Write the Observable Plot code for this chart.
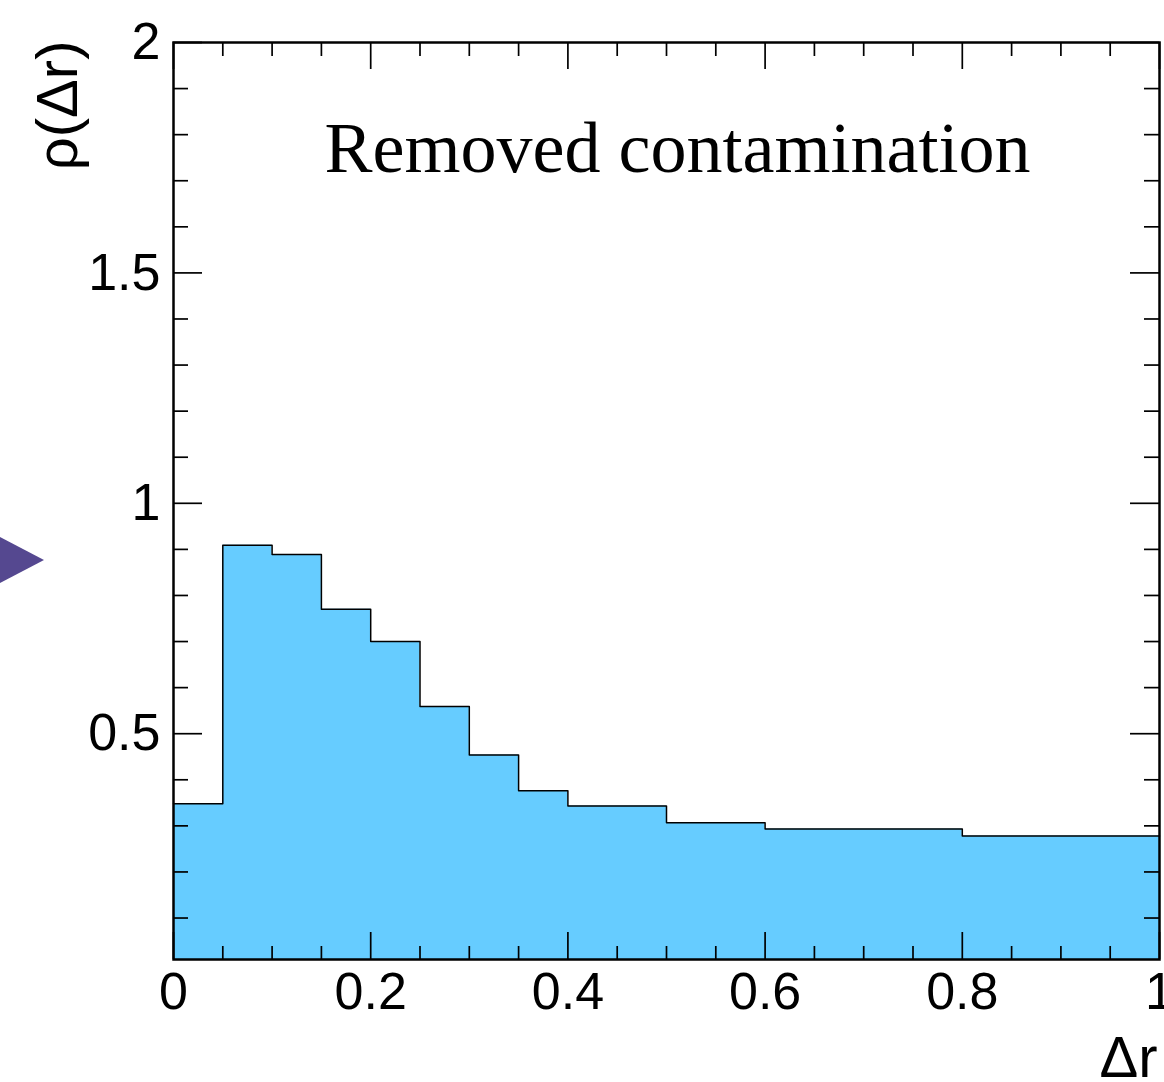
<!DOCTYPE html>
<html><head><meta charset="utf-8">
<script src="https://cdn.jsdelivr.net/npm/d3@7"></script>
<script src="https://cdn.jsdelivr.net/npm/@observablehq/plot@0.6"></script>
<style>
html,body{margin:0;padding:0;background:#fff;}
#wrap{position:relative;width:1164px;height:1082px;overflow:hidden;}
#arrow{position:absolute;left:0;top:537px;width:44px;height:46px;background:#554890;clip-path:polygon(0 0,100% 50%,0 100%);}
</style></head><body><div id="wrap"><div id="chart"></div><div id="arrow"></div></div>
<script>
// Histogram bins (Δr edges) and ρ(Δr) values
const binEdges = [0, 0.05, 0.1, 0.15, 0.2, 0.25, 0.3, 0.35, 0.4, 0.5, 0.6, 0.8, 1.0];
const binValues = [0.348, 0.909, 0.889, 0.770, 0.700, 0.559, 0.454, 0.376, 0.343, 0.307, 0.293, 0.278];
const xMajorTicks = [0, 0.2, 0.4, 0.6, 0.8, 1];
const xTickLabels = ["0", "0.2", "0.4", "0.6", "0.8", "1"];
const yMajorTicks = [0.5, 1, 1.5, 2];
const yTickLabels = ["0.5", "1", "1.5", "2"];
const xDomain = [0, 1];
const yDomain = [0.01, 2];
const titleText = "Removed contamination";
const xLabel = "Δr";
const yLabel = "ρ(Δr)";

const xMinorTicks = d3.range(0, 21).map(i => i / 20).filter(v => !xMajorTicks.some(m => Math.abs(m - v) < 1e-9));
const yMinorTicks = d3.range(1, 21).map(i => i / 10).filter(v => !yMajorTicks.some(m => Math.abs(m - v) < 1e-9));

const stepPts = binValues.map((v, i) => ({x: binEdges[i], y: v}))
  .concat([{x: binEdges[binEdges.length - 1], y: binValues[binValues.length - 1]}]);

const W = 1164, H = 1082, mL = 173, mR = 5, mT = 42, mB = 123;
const fw = W - mL - mR, fh = H - mT - mB;
const sans = "'Liberation Sans', Arial, Helvetica, sans-serif";

const chart = Plot.plot({
  width: W, height: H,
  marginLeft: mL, marginRight: mR, marginTop: mT, marginBottom: mB,
  style: {fontFamily: sans, background: "white", overflow: "visible"},
  x: {domain: xDomain},
  y: {domain: yDomain},
  marks: [
    Plot.areaY(stepPts, {x: "x", y1: () => yDomain[0], y2: "y", curve: "step-after", fill: "#66ccff"}),
    Plot.lineY(stepPts, {x: "x", y: "y", curve: "step-after", stroke: "black", strokeWidth: 1.5}),
    // inner ticks, all four sides
    Plot.tickX(xMajorTicks, {x: d => d, insetTop: fh - 27, stroke: "black", strokeWidth: 1.7}),
    Plot.tickX(xMinorTicks, {x: d => d, insetTop: fh - 13, stroke: "black", strokeWidth: 1.7}),
    Plot.tickX(xMajorTicks, {x: d => d, insetBottom: fh - 27, stroke: "black", strokeWidth: 1.7}),
    Plot.tickX(xMinorTicks, {x: d => d, insetBottom: fh - 14, stroke: "black", strokeWidth: 1.7}),
    Plot.tickY(yMajorTicks, {y: d => d, insetRight: fw - 29, stroke: "black", strokeWidth: 1.7}),
    Plot.tickY(yMinorTicks, {y: d => d, insetRight: fw - 15, stroke: "black", strokeWidth: 1.7}),
    Plot.tickY(yMajorTicks, {y: d => d, insetLeft: fw - 29, stroke: "black", strokeWidth: 1.7}),
    Plot.tickY(yMinorTicks, {y: d => d, insetLeft: fw - 15, stroke: "black", strokeWidth: 1.7}),
    Plot.frame({stroke: "black", strokeWidth: 2.5}),
    Plot.axisX(xMajorTicks, {tickSize: 0, tickPadding: 13, fontSize: 52, label: null,
      tickFormat: d => xTickLabels[xMajorTicks.indexOf(d)]}),
    Plot.axisY(yMajorTicks, {tickSize: 0, tickPadding: 13, fontSize: 52, label: null,
      tickFormat: d => yTickLabels[yMajorTicks.indexOf(d)]}),
    Plot.text([xLabel], {text: d => d, frameAnchor: "bottom-right", textAnchor: "end", lineAnchor: "bottom",
      dx: -2, dy: 117, fontSize: 58}),
    Plot.text([yLabel], {text: d => d, frameAnchor: "top-left", rotate: -90, textAnchor: "end", lineAnchor: "bottom",
      dx: -97, dy: -2, fontSize: 58}),
    Plot.text([titleText], {text: d => d, frameAnchor: "top", lineAnchor: "bottom", dx: 11, dy: 129,
      fontSize: 72, fontFamily: "'Liberation Serif', 'Times New Roman', serif"})
  ]
});
document.getElementById("chart").appendChild(chart);
</script>
</body></html>
